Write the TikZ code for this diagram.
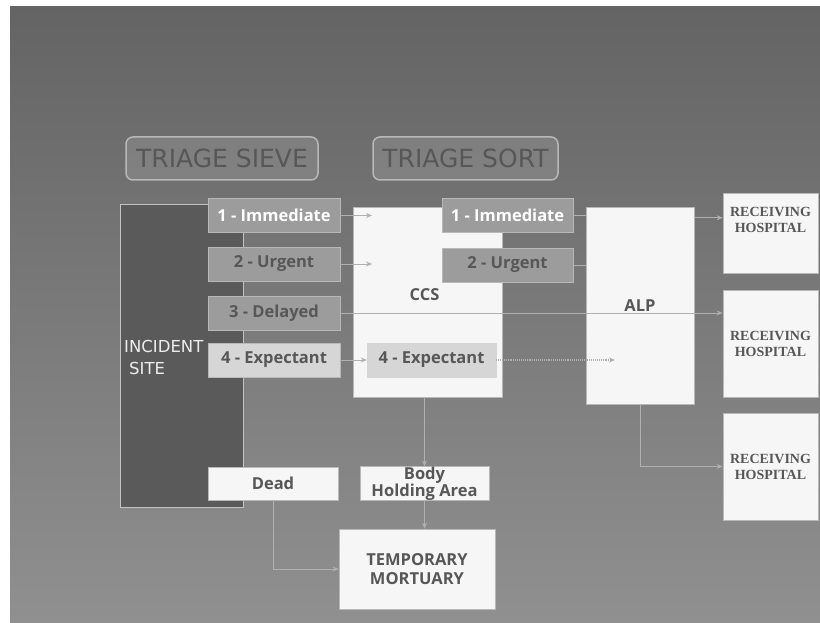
\documentclass[tikz,border=0pt]{standalone}
\usepackage{fontspec}
\setmainfont{Open Sans}
\newfontfamily\headfont{DejaVu Sans}
\newfontfamily\hospfont{Liberation Serif}
\usetikzlibrary{arrows.meta}
\definecolor{bgtop}{HTML}{646464}
\definecolor{bgbot}{HTML}{909090}
\definecolor{sitegray}{HTML}{5A5A5A}
\definecolor{boxgray}{HTML}{9C9C9C}
\definecolor{pale}{HTML}{D6D6D6}
\definecolor{paper}{HTML}{F6F6F6}
\definecolor{ink}{HTML}{575757}
\definecolor{rim}{HTML}{B8B8B8}
\definecolor{wire}{HTML}{B0B0B0}
\begin{document}
\begin{tikzpicture}[x=1pt,y=-1pt,
  every node/.style={font=\fontsize{16.5}{18}\selectfont\bfseries, text=ink, inner sep=0pt},
  head/.style={draw=rim, line width=1.5pt, fill=white, fill opacity=0.12, text opacity=1,
    rounded corners=7pt, minimum height=43pt, font=\headfont\fontsize{25}{28}\selectfont, text=ink},
  grade/.style={draw=rim, fill=boxgray, minimum width=132pt, minimum height=34pt},
  card/.style={draw=rim, fill=paper, line width=0.6pt},
  hosp/.style={card, minimum width=95pt},
  hosptext/.style={font=\hospfont\bfseries\fontsize{14}{16}\selectfont, align=center, text=ink},
  wire/.style={draw=wire, line width=0.9pt},
  feed/.style={wire, -{Stealth[length=6pt,width=5pt]}}]
\useasboundingbox (0,0) rectangle (820,623);
\fill[white] (0,0) rectangle (820,623);
\shade[top color=bgtop, bottom color=bgbot] (10,7) rectangle (820,623);

% headings
\node[head, minimum width=192pt] (sieve) at (222,158.5) {TRIAGE SIEVE};
\node[head, minimum width=185pt] (sort) at (465.5,158.5) {TRIAGE SORT};

% incident site and sieve grades
\node[draw=rim!85, fill=sitegray, line width=1pt, minimum width=123pt, minimum height=302pt] (site) at (181.5,356) {};
\node[font=\headfont\fontsize{16.5}{22}\selectfont, text=white!93!black, align=left, anchor=west] (sitelabel) at (124,357) {INCIDENT\\\hspace{5pt}SITE};
\node[grade, text=white] (s1) at (274,215.5) {1 - Immediate};
\node[grade] (s2) at (274,264) {2 - Urgent};
\node[grade] (s3) at (274,313) {3 - Delayed};
\node[grade, fill=pale] (s4) at (274,360) {4 - Expectant};

% casualty clearing station and sort grades
\node[card, minimum width=149pt, minimum height=190pt, label={[xshift=-3pt,yshift=7pt]center:CCS}] (ccs) at (427.5,302) {};
\node[grade, minimum width=131pt, text=white] (t1) at (507.5,215) {1 - Immediate};
\node[grade, minimum width=131pt] (t2) at (507.5,265) {2 - Urgent};
\node[grade, minimum width=129pt, fill=pale, draw=pale] (t4) at (431.5,360) {4 - Expectant};

% loading point and hospitals
\node[card, minimum width=108pt, minimum height=197pt] (alp) at (640,305.5) {ALP};
\node[hosp, minimum height=80pt, label={[hosptext,yshift=13pt]center:RECEIVING\\HOSPITAL}] (h1) at (770.5,233) {};
\node[hosp, hosptext, minimum height=107pt] (h2) at (770.5,343.5) {RECEIVING\\HOSPITAL};
\node[hosp, hosptext, minimum height=107pt] (h3) at (770.5,466.5) {RECEIVING\\HOSPITAL};

% dead
\node[card, minimum width=130pt, minimum height=33pt] (dead) at (273,483.5) {Dead};
\node[card, minimum width=129pt, minimum height=33pt, align=center, font=\fontsize{16.5}{17}\selectfont\bfseries] (body) at (424.5,483.5) {Body\\Holding Area};
\node[card, minimum width=156pt, minimum height=80pt, align=center, font=\fontsize{16.5}{18.5}\selectfont\bfseries] (mort) at (417,569) {TEMPORARY\\MORTUARY};

\coordinate (ccs1) at (372,215.5);
\coordinate (ccs2) at (372,264);
\coordinate (alp4) at (615,360);

\draw[feed] (s1) -- (ccs1);
\draw[feed] (s2) -- (ccs2);
\draw[feed] (s3) -- (s3 -| h2.west);
\draw[feed] (s4) -- (t4);
\draw[feed, densely dotted, line width=1.2pt] (t4) -- (alp4);
\draw[wire] (t1) -- (t1 -| alp.west);
\draw[wire] (t2) -- (t2 -| alp.west);
\draw[feed] ([yshift=-11pt]alp.north east) -- ([yshift=-11pt]alp.north east -| h1.west);
\draw[feed] (alp.south) |- (h3.west);
\draw[feed] (body.north |- ccs.south) -- (body.north);
\draw[feed] (body) -- (body |- mort.north);
\draw[feed] (dead) |- (mort);
\end{tikzpicture}
\end{document}
